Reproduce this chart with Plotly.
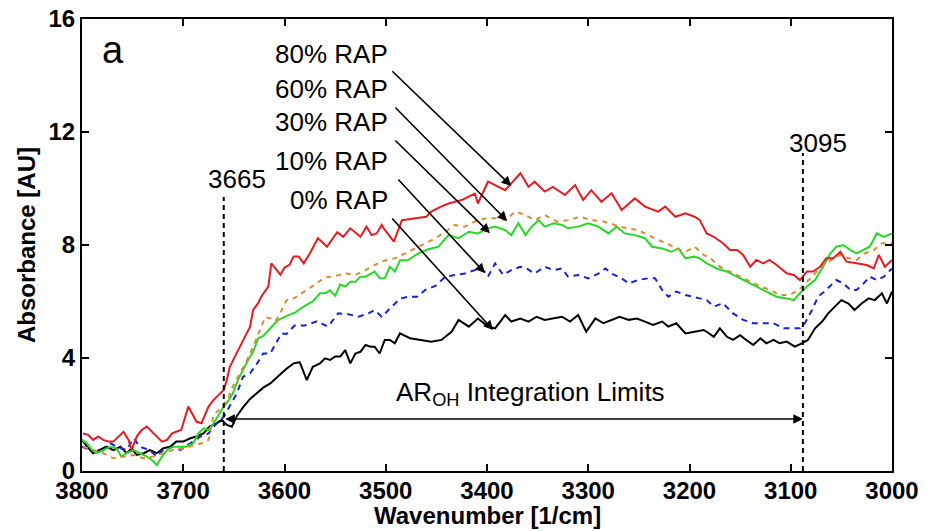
import plotly.graph_objects as go

# ---------------- data ----------------
wn_80 = [3799,3794,3789,3784,3779,3774,3769,3764,3759,3754,3751,3746,3741,3736,3731,3726,3721,3716,3711,3707,
         3702,3695,3690,3687,3682,3675,3670,3664,3660,3657,3654,3649,3644,3639,3634,3631,3626,3623,3616,3613,
         3608,3604,3600,3595,3591,3586,3581,3575,3567,3565,3558,3548,3542,3535,3525,3519,3514,3509,3504,3502,
         3492,3484,3469,3460,3455,3446,3438,3425,3412,3409,3399,3389,3382,3376,3367,3359,3353,3343,3335,3323,
         3313,3305,3297,3287,3277,3267,3254,3244,3231,3224,3214,3204,3195,3190,3183,3176,3167,3160,3153,3147,
         3140,3134,3127,3121,3114,3104,3097,3091,3084,3078,3071,3065,3058,3051,3045,3035,3025,3018,3013,3007,3000]
ab_80 = [1.33,1.28,1.10,1.22,1.10,1.04,1.04,1.22,1.39,1.10,0.74,1.22,1.45,1.57,1.39,1.22,1.04,1.10,1.33,1.39,
         1.45,2.28,1.92,1.75,1.69,2.28,2.52,2.75,2.87,3.22,3.69,4.05,4.40,4.76,5.11,5.70,5.94,6.17,6.53,7.35,
         7.12,6.95,7.20,7.30,7.59,7.59,7.35,7.70,8.24,8.18,7.94,8.45,8.29,8.59,8.29,8.65,8.35,8.41,8.71,8.59,
         8.12,8.88,8.97,9.00,9.18,9.35,9.47,9.59,9.82,9.47,10.24,10.06,9.94,10.18,10.54,10.06,10.24,9.89,10.06,9.77,
         10.12,9.59,9.94,9.53,9.83,9.24,9.65,9.36,9.18,9.36,9.00,9.12,9.00,8.89,8.41,8.29,8.06,7.82,7.82,7.65,
         7.23,7.47,7.35,7.47,7.29,7.00,6.94,6.76,7.06,7.06,7.23,7.53,7.53,7.76,7.41,7.35,7.29,7.17,7.65,7.23,7.47]

wn_60 = [3799,3789,3779,3769,3759,3749,3740,3730,3720,3710,3700,3690,3680,3675,3670,3665,3660,3655,3651,3644,
         3637,3631,3624,3619,3614,3609,3604,3598,3590,3580,3570,3560,3550,3540,3530,3520,3511,3501,3491,3481,
         3471,3461,3451,3441,3432,3422,3412,3402,3392,3382,3372,3362,3353,3343,3331,3320,3308,3297,3285,3274,
         3262,3251,3241,3231,3223,3213,3204,3195,3186,3180,3170,3160,3150,3140,3130,3120,3111,3101,3092,3084,
         3076,3068,3060,3051,3043,3035,3027,3018,3010,3000]
ab_60 = [0.86,0.74,0.63,0.45,0.51,0.57,0.45,0.51,0.63,0.74,0.80,0.90,1.00,1.10,2.00,2.15,2.35,2.63,2.99,3.46,
         3.93,4.40,4.99,5.45,5.40,5.30,5.60,6.05,6.12,6.35,6.60,6.85,6.90,6.99,6.94,7.11,7.29,7.45,7.53,7.70,
         7.88,8.06,8.24,8.47,8.71,8.65,8.83,8.94,8.95,8.88,9.18,9.06,8.88,9.06,8.83,8.88,9.00,8.88,8.83,8.71,
         8.59,8.53,8.35,8.18,8.06,7.88,7.76,7.94,7.65,7.55,7.23,7.06,6.88,6.70,6.53,6.41,6.23,6.23,6.41,6.70,
         6.99,7.29,7.47,7.65,7.53,7.47,7.70,7.82,8.06,8.06]

wn_30 = [3800,3795,3790,3786,3779,3772,3766,3761,3756,3749,3743,3736,3731,3726,3721,3716,3710,3703,3697,3690,
         3685,3680,3675,3670,3665,3660,3655,3651,3646,3641,3636,3631,3626,3621,3616,3611,3606,3601,3596,3590,
         3580,3572,3565,3560,3555,3550,3545,3540,3535,3530,3525,3520,3515,3511,3506,3501,3496,3491,3486,3478,
         3468,3458,3448,3438,3428,3418,3409,3399,3392,3382,3376,3369,3362,3356,3349,3343,3334,3326,3320,3310,
         3300,3290,3280,3272,3264,3254,3244,3237,3227,3218,3211,3204,3195,3190,3183,3173,3163,3153,3144,3134,
         3124,3114,3104,3097,3091,3084,3076,3068,3061,3055,3048,3041,3035,3028,3022,3015,3008,3000]
ab_30 = [1.10,0.98,0.74,0.63,0.74,0.86,0.80,0.51,0.63,0.74,0.63,0.51,0.39,0.21,0.51,0.74,0.86,0.86,0.86,0.98,
         1.33,1.51,1.45,1.69,1.98,2.28,2.51,2.75,3.22,3.58,3.93,4.22,4.70,4.78,4.99,5.17,5.35,5.45,5.52,5.60,
         5.85,6.00,6.29,6.29,6.40,6.20,6.60,6.53,6.70,6.70,6.88,6.88,6.99,7.06,6.82,6.82,7.23,7.06,7.45,7.47,
         7.70,7.85,7.94,8.35,8.24,8.47,8.41,8.59,8.65,8.53,8.35,8.77,8.35,8.65,8.88,8.65,8.77,8.71,8.59,8.65,
         8.77,8.65,8.41,8.65,8.41,8.35,8.24,7.94,7.88,7.76,7.88,7.53,7.59,7.53,7.35,7.17,7.06,6.88,6.70,6.53,
         6.35,6.17,6.11,6.05,6.29,6.53,6.76,7.23,7.70,7.94,8.00,7.82,7.70,7.82,7.94,8.41,8.29,8.41]

wn_10 = [3800,3792,3782,3772,3766,3756,3749,3743,3733,3726,3720,3710,3703,3693,3683,3675,3667,3660,3654,3647,
         3641,3634,3627,3621,3614,3608,3603,3598,3590,3580,3568,3557,3547,3537,3527,3517,3511,3504,3494,3486,
         3478,3469,3461,3451,3441,3432,3422,3412,3405,3399,3392,3384,3376,3367,3361,3353,3343,3334,3326,3320,
         3310,3300,3290,3283,3277,3267,3260,3251,3241,3234,3227,3221,3213,3204,3195,3190,3183,3176,3167,3157,
         3147,3137,3127,3117,3107,3099,3091,3086,3079,3073,3065,3055,3048,3041,3035,3028,3022,3015,3008,3000]
ab_10 = [0.86,0.74,0.63,0.98,0.86,0.74,1.16,0.86,0.74,0.51,0.74,0.86,0.74,0.98,1.22,1.33,1.69,1.92,2.28,2.75,
         3.34,3.46,3.81,4.16,4.16,4.55,4.87,4.85,5.15,5.15,5.30,5.11,5.58,5.55,5.46,5.58,5.70,5.46,5.80,6.10,
         6.17,6.17,6.41,6.55,6.88,6.94,6.99,7.11,7.17,6.88,7.35,6.94,7.11,7.23,7.17,6.99,7.23,7.11,7.17,6.88,
         6.94,6.82,6.99,7.17,6.99,6.82,6.64,6.76,6.82,6.82,6.41,6.17,6.35,6.23,6.17,6.11,6.05,5.82,5.94,5.58,
         5.35,5.23,5.23,5.23,5.05,5.05,5.05,5.23,5.70,6.17,6.41,6.76,6.64,6.41,6.41,6.64,6.88,6.76,6.88,7.17]

wn_0 = [3800,3795,3789,3782,3776,3769,3762,3756,3751,3746,3739,3733,3726,3720,3713,3707,3700,3693,3687,3680,
        3674,3667,3662,3657,3652,3647,3641,3634,3627,3621,3614,3608,3603,3598,3591,3585,3578,3572,3565,3560,
        3555,3550,3545,3540,3535,3530,3525,3520,3515,3511,3506,3501,3496,3491,3486,3476,3465,3455,3445,3435,
        3428,3418,3409,3399,3392,3382,3376,3367,3359,3351,3343,3334,3326,3318,3310,3302,3293,3285,3277,3269,
        3260,3252,3244,3236,3227,3221,3213,3204,3195,3186,3183,3176,3170,3163,3157,3150,3144,3137,3130,3124,
        3117,3111,3104,3096,3089,3083,3076,3069,3063,3056,3050,3043,3037,3030,3023,3017,3010,3005,3000]
ab_0 = [1.10,0.86,0.63,0.74,0.86,0.74,0.86,0.63,0.80,0.57,0.63,0.74,0.63,0.80,0.86,1.04,1.04,1.16,1.22,1.33,
        1.57,1.69,1.81,1.63,1.57,1.95,2.25,2.55,2.75,2.95,3.10,3.28,3.46,3.62,3.81,3.85,3.22,3.69,3.81,3.99,
        3.93,4.05,4.05,4.28,3.81,4.16,4.22,4.46,4.40,4.40,4.16,4.64,4.64,4.52,4.87,4.70,4.64,4.58,4.64,4.93,
        5.35,5.11,5.40,5.11,5.05,5.52,5.29,5.40,5.29,5.46,5.35,5.40,5.46,5.29,5.52,4.93,5.40,5.23,5.35,5.46,
        5.35,5.40,5.29,5.17,5.29,5.11,5.23,4.87,4.93,4.99,4.93,4.75,5.05,4.75,4.64,4.81,4.64,4.46,4.70,4.52,
        4.64,4.52,4.58,4.40,4.52,4.64,5.05,5.29,5.58,5.82,6.05,5.93,5.70,5.93,6.11,6.05,6.29,5.93,6.35]

labels = ["80% RAP", "60% RAP", "30% RAP", "10% RAP", "0% RAP"]
label_y = [14.76, 13.52, 12.35, 10.97, 9.59]
arrow_tail = [(3495, 14.2), (3492, 12.92), (3492, 11.75), (3489, 10.37), (3495, 8.99)]
arrow_head = [(3376, 10.09), (3380, 8.85), (3397, 8.42), (3402, 7.01), (3394, 4.99)]

limit_labels = ["3665", "3095"]
limit_pos = [3660, 3088]
limit_top = [9.7, 11.26]

x_ticks = [3800, 3700, 3600, 3500, 3400, 3300, 3200, 3100, 3000]
y_ticks = [0, 4, 8, 12, 16]
x_title = "Wavenumber [1/cm]"
y_title = "Absorbance [AU]"

FONT = "Liberation Sans, Arial, Helvetica, sans-serif"

fig = go.Figure()
series = [
    (wn_0, ab_0, "0% RAP", "black", "solid"),
    (wn_10, ab_10, "10% RAP", "rgb(25,35,210)", "6px,5px"),
    (wn_30, ab_30, "30% RAP", "rgb(40,215,40)", "solid"),
    (wn_60, ab_60, "60% RAP", "rgb(215,140,55)", "5px,5px"),
    (wn_80, ab_80, "80% RAP", "rgb(228,28,36)", "solid"),
]
for wn, ab, name, col, dash in series:
    fig.add_trace(go.Scatter(x=wn, y=ab, mode="lines", name=name,
                             line=dict(color=col, width=2, dash=dash), showlegend=False))

# dashed limit lines
for xp, top in zip(limit_pos, limit_top):
    fig.add_shape(type="line", x0=xp, x1=xp, y0=0, y1=top, xref="x", yref="y",
                  line=dict(color="black", width=2, dash="5px,4px"))

annotations = []
for lab, ly in zip(labels, label_y):
    annotations.append(dict(x=3495.8, y=ly, xref="x", yref="y", text=lab, showarrow=False,
                            xanchor="right", yanchor="middle",
                            font=dict(family=FONT, size=26, color="black")))
for (tx, ty), (hx, hy) in zip(arrow_tail, arrow_head):
    annotations.append(dict(x=hx, y=hy, ax=tx, ay=ty, xref="x", yref="y", axref="x", ayref="y",
                            text="", showarrow=True, arrowhead=2, arrowsize=1.2, arrowwidth=1.6,
                            arrowcolor="black"))
# limit labels
annotations.append(dict(x=3647, y=10.34, xref="x", yref="y", text=limit_labels[0], showarrow=False,
                        font=dict(family=FONT, size=26, color="black")))
annotations.append(dict(x=3073, y=11.6, xref="x", yref="y", text=limit_labels[1], showarrow=False,
                        font=dict(family=FONT, size=26, color="black")))
# integration limits arrow
annotations.append(dict(x=limit_pos[1], y=1.84, ax=limit_pos[0], ay=1.84, xref="x", yref="y",
                        axref="x", ayref="y", text="", showarrow=True, arrowhead=2, startarrowhead=2,
                        arrowside="end+start", arrowsize=1.2, startarrowsize=1.2, arrowwidth=1.6,
                        arrowcolor="black"))
annotations.append(dict(x=3357, y=2.75, xref="x", yref="y",
                        text="AR<sub>OH</sub> Integration Limits", showarrow=False,
                        font=dict(family=FONT, size=26, color="black")))
annotations.append(dict(x=3769, y=14.9, xref="x", yref="y", text="a", showarrow=False,
                        font=dict(family=FONT, size=38, color="black")))
# x-axis title as paper annotation (placed just below tick labels)
annotations.append(dict(x=0.5, y=-0.099, xref="paper", yref="paper", text=x_title, showarrow=False,
                        xanchor="center", yanchor="middle",
                        font=dict(family=FONT, size=24, weight="bold", color="black")))

fig.update_layout(
    width=929, height=531,
    margin=dict(l=82, r=37, t=19, b=60),
    paper_bgcolor="white", plot_bgcolor="white",
    annotations=annotations,
    font=dict(family=FONT, color="black"),
)
fig.update_xaxes(range=[3800, 3000], tickvals=x_ticks, ticks="inside", ticklen=7, tickwidth=2,
                 tickcolor="black", showline=True, linecolor="black", linewidth=2, mirror="ticks",
                 showgrid=False, zeroline=False, automargin=False, ticklabelstandoff=-3,
                 tickfont=dict(family=FONT, size=24, weight="bold", color="black"))
fig.update_yaxes(range=[0, 16], tickvals=y_ticks, ticks="inside", ticklen=7, tickwidth=2,
                 tickcolor="black", showline=True, linecolor="black", linewidth=2, mirror="ticks",
                 showgrid=False, zeroline=False, automargin=False,
                 tickfont=dict(family=FONT, size=24, weight="bold", color="black"),
                 title=dict(text=y_title, standoff=6,
                            font=dict(family=FONT, size=24, weight="bold", color="black")))

fig.write_html("out.html")
